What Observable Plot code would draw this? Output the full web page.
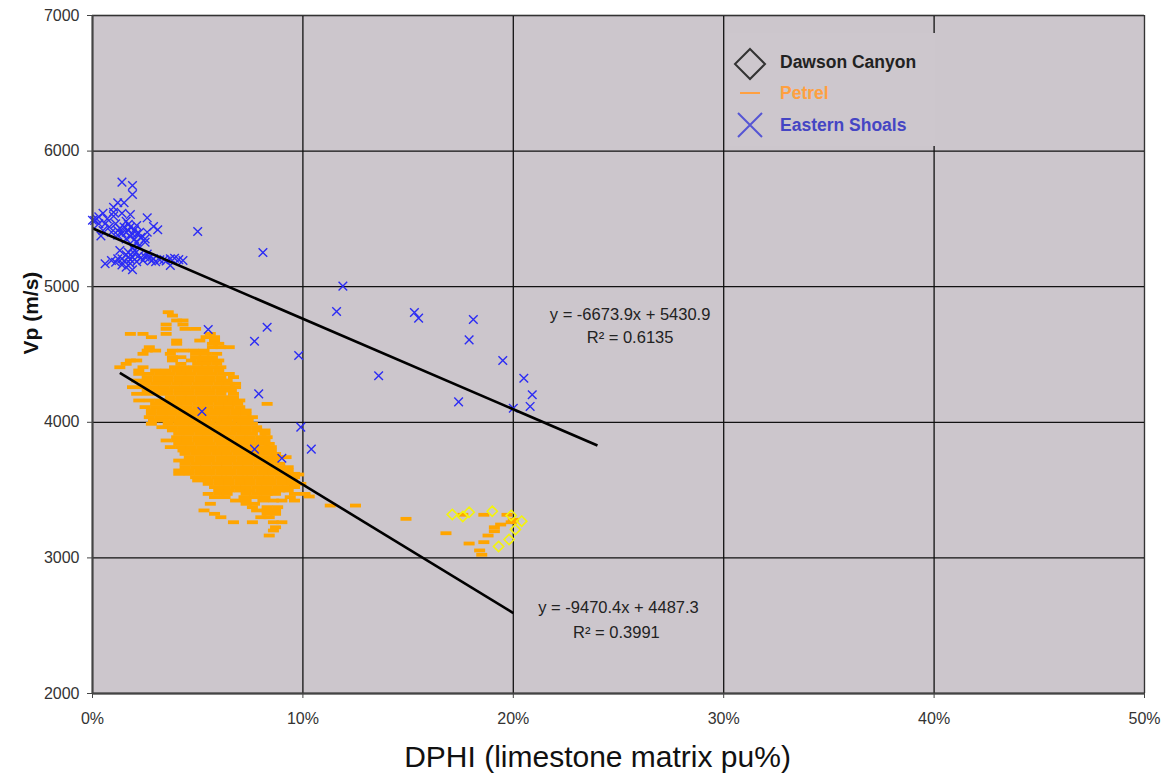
<!DOCTYPE html>
<html>
<head>
<meta charset="utf-8">
<script src="https://cdn.jsdelivr.net/npm/d3@7"></script>
<script src="https://cdn.jsdelivr.net/npm/@observablehq/plot@0.6"></script>
<style>
  body { margin: 0; background: #fff; font-family: "Liberation Sans", Arial, sans-serif; }
  #wrap { position: relative; width: 1165px; height: 780px; }
  #legend { position: absolute; left: 727px; top: 33px; width: 208px; height: 113px; background: #cdc7cd; }
  .item { position: absolute; left: 0; height: 30px; width: 208px; }
  .item svg { position: absolute; left: 0; top: 0; }
  .item span { position: absolute; left: 53px; top: 50%; transform: translateY(-50%); font-weight: bold; font-size: 17.5px; white-space: nowrap; }
</style>
</head>
<body>
<div id="wrap">
  <div id="legend"></div>
</div>
<script>
// Series names
const seriesNames = ["Dawson Canyon", "Petrel", "Eastern Shoals"];

// Axis ticks
const xTicks = [0, 10, 20, 30, 40, 50];              // DPHI, percent
const yTicks = [2000, 3000, 4000, 5000, 6000, 7000]; // Vp, m/s

// Linear fits (x as fraction, y in m/s) with their R² and drawn x-span (percent)
const fitNames = ["Eastern Shoals", "Petrel"];
const fitSlopes = [-6673.9, -9470.4];
const fitIntercepts = [5430.9, 4487.3];
const fitR2 = [0.6135, 0.3991];
const fitFrom = [0, 1.3];
const fitTo = [24, 20];

// Dawson Canyon: [DPHI %, Vp m/s]
const dawsonCanyon = [
  [17.1, 3320], [17.6, 3305], [17.9, 3337], [19.0, 3344], [19.9, 3313],
  [20.4, 3271], [20.1, 3209], [19.8, 3136], [19.3, 3084]
];

// Eastern Shoals: [DPHI %, Vp m/s]
const easternShoals = [
  [1.4, 5771], [1.9, 5746], [1.9, 5680], [1.2, 5619], [1.5, 5619], [1.0, 5586], [1.0, 5549],
  [1.4, 5542], [1.8, 5532], [0.5, 5542], [2.6, 5508], [1.6, 5483], [0.1, 5488], [0.3, 5464],
  [0.6, 5464], [1.1, 5464], [2.1, 5451], [2.9, 5444], [3.1, 5420], [0.5, 5414], [0.9, 5402],
  [1.2, 5414], [1.6, 5402], [1.7, 5414], [1.9, 5390], [1.2, 5380], [2.6, 5402], [2.3, 5365],
  [2.5, 5353], [0.4, 5375], [1.6, 5353], [2.1, 5328], [2.5, 5328],
  [0.2, 5500], [0.0, 5490], [0.3, 5515], [0.8, 5440], [1.3, 5430], [1.8, 5440], [2.0, 5420],
  [1.4, 5395], [1.8, 5370], [2.0, 5350], [1.0, 5520], [0.7, 5500], [2.2, 5395], [1.5, 5440],
  [1.7, 5460], [2.1, 5390],
  [0.6, 5169], [0.9, 5193], [1.2, 5206], [1.4, 5206], [1.7, 5218], [1.9, 5218], [2.0, 5243],
  [2.3, 5213], [2.4, 5193], [2.7, 5213], [2.9, 5206], [3.2, 5198], [3.7, 5206], [3.9, 5210],
  [4.3, 5193], [3.7, 5156], [1.6, 5144], [1.9, 5125], [2.0, 5267], [1.7, 5254], [1.3, 5267],
  [1.5, 5190], [1.8, 5200], [2.1, 5185], [2.2, 5230], [1.6, 5235], [1.1, 5180], [2.5, 5220],
  [3.0, 5185], [3.4, 5200], [4.1, 5200], [3.5, 5190], [1.8, 5170], [1.4, 5160], [2.6, 5240],
  [1.9, 5290], [2.2, 5300], [2.8, 5190],
  [5.0, 5407], [8.1, 5252], [11.9, 5004], [11.6, 4817], [15.3, 4810], [15.5, 4768], [18.1, 4758],
  [17.9, 4608], [19.5, 4456], [20.5, 4325], [20.9, 4203], [20.8, 4117], [20.0, 4104], [17.4, 4151],
  [13.6, 4343], [9.8, 4493], [8.3, 4701], [7.7, 4598], [7.9, 4210], [9.9, 3964], [10.4, 3802],
  [7.7, 3802], [9.0, 3735], [5.5, 4684], [5.2, 4080]
];

// Petrel: rows of equal Vp (m/s) with the DPHI (%) of each reading in the row
const petrelRows = [
  [4812, [3.6]],
  [4787, [3.8]],
  [4751, [4.0, 4.3]],
  [4721, [3.5, 4.3]],
  [4689, [3.5, 4.4, 4.9]],
  [4652, [1.8, 2.4, 3.5, 5.6]],
  [4628, [2.8, 5.4, 5.8]],
  [4603, [4.0, 5.1, 5.8]],
  [4579, [4.0, 5.7, 6.0]],
  [4554, [2.7, 5.7, 6.1, 6.5]],
  [4529, [2.6, 3.0, 3.8, 4.3, 4.8, 5.3]],
  [4505, [2.4, 3.7, 4.9, 5.4, 5.9]],
  [4480, [3.8, 4.2, 4.9, 5.3, 5.7]],
  [4456, [1.8, 2.1, 3.8, 4.7, 5.2, 5.6, 6.0]],
  [4431, [1.6, 4.2, 5.0, 5.4, 5.9]],
  [4406, [1.3, 2.4, 3.9, 4.3, 4.8, 5.3, 5.7, 6.1]],
  [4382, [2.2, 3.0, 3.5, 4.0, 4.5, 5.0, 5.5, 6.0]],
  [4357, [2.2, 2.7, 3.2, 3.7, 4.2, 4.7, 5.2, 5.7, 6.2, 6.5]],
  [4333, [2.6, 3.1, 3.6, 4.1, 4.6, 5.1, 5.6, 6.1, 6.7]],
  [4308, [2.1, 2.6, 3.1, 3.6, 4.1, 4.6, 5.1, 5.6, 6.1, 6.4]],
  [4284, [2.5, 3.0, 3.5, 4.0, 4.5, 5.0, 5.5, 6.0, 6.5, 6.8]],
  [4259, [1.9, 2.4, 2.9, 3.4, 3.9, 4.4, 4.9, 5.4, 5.9, 6.4, 6.8]],
  [4234, [2.6, 3.1, 3.6, 4.1, 4.6, 5.1, 5.6, 6.1, 6.6]],
  [4210, [2.1, 2.6, 3.1, 3.6, 4.1, 4.6, 5.1, 5.6, 6.1, 6.7]],
  [4185, [3.7, 4.2, 4.7, 5.2, 5.7, 6.2, 6.7]],
  [4161, [2.2, 2.7, 3.2, 3.7, 4.2, 4.7, 5.2, 5.7, 6.2, 6.7, 7.0]],
  [4136, [3.0, 3.5, 4.0, 4.5, 5.0, 5.5, 6.0, 6.5, 6.9, 8.3]],
  [4112, [2.5, 3.0, 3.5, 4.0, 4.5, 5.0, 5.5, 6.0, 6.5, 7.0]],
  [4087, [2.8, 3.3, 3.8, 4.3, 4.8, 5.3, 5.8, 6.3, 6.8, 7.3]],
  [4062, [2.8, 3.3, 3.8, 4.3, 4.8, 5.3, 5.8, 6.3, 6.8, 7.3]],
  [4038, [2.7, 3.2, 3.7, 4.2, 4.7, 5.2, 5.7, 6.2, 6.7, 7.2, 7.6]],
  [4013, [2.9, 3.4, 3.9, 4.4, 4.9, 5.4, 5.9, 6.4, 6.9, 7.4]],
  [3989, [2.8, 3.6, 4.1, 4.6, 5.1, 5.6, 6.1, 6.6, 7.1, 7.6]],
  [3964, [3.3, 3.8, 4.3, 4.8, 5.3, 5.8, 6.3, 6.8, 7.3, 7.8]],
  [3940, [3.8, 4.3, 4.8, 5.3, 5.8, 6.3, 6.8, 7.3, 7.8, 8.2]],
  [3915, [4.1, 4.6, 5.1, 5.6, 6.1, 6.6, 7.1, 7.6, 8.2]],
  [3890, [4.0, 4.5, 5.0, 5.5, 6.0, 6.5, 7.0, 7.5, 8.0, 8.3]],
  [3866, [3.5, 4.0, 4.5, 5.0, 5.5, 6.0, 6.5, 7.0, 7.5, 8.0, 8.2]],
  [3841, [4.1, 4.6, 5.1, 5.6, 6.1, 6.6, 7.1, 7.6, 8.1, 8.4]],
  [3817, [3.7, 4.2, 4.7, 5.2, 5.7, 6.2, 6.7, 7.2, 7.7, 8.2, 8.5]],
  [3792, [4.3, 4.8, 5.3, 5.8, 6.3, 6.8, 7.3, 7.8, 8.3, 8.5]],
  [3767, [4.4, 4.9, 5.4, 5.9, 6.4, 6.9, 7.4, 7.9, 8.4, 8.7]],
  [3743, [4.6, 5.1, 5.6, 6.1, 6.6, 7.1, 7.6, 8.1, 8.6, 8.8, 9.2]],
  [3718, [4.1, 4.6, 5.1, 5.6, 6.1, 6.6, 7.1, 7.6, 8.1, 8.6]],
  [3694, [4.4, 4.9, 5.4, 5.9, 6.4, 6.9, 7.4, 7.9, 8.4, 8.9]],
  [3669, [4.4, 4.9, 5.4, 5.9, 6.4, 6.9, 7.4, 7.9, 8.4, 8.9, 9.3]],
  [3645, [4.1, 4.6, 5.1, 5.6, 6.1, 6.6, 7.1, 7.6, 8.1, 8.6, 9.1, 9.3]],
  [3620, [4.1, 4.6, 5.1, 5.6, 6.1, 6.6, 7.1, 7.6, 8.1, 8.6, 9.1, 9.6]],
  [3595, [4.9, 5.4, 5.9, 6.4, 6.9, 7.4, 7.9, 8.4, 8.9, 9.4, 9.6]],
  [3571, [5.0, 5.5, 6.0, 6.5, 7.0, 7.5, 8.0, 8.5, 9.0, 9.5]],
  [3546, [5.5, 6.0, 6.5, 7.0, 7.5, 8.0, 8.5, 9.0, 9.5, 9.9]],
  [3522, [5.8, 6.3, 6.8, 7.3, 7.8, 8.3, 8.8, 9.3, 9.6]],
  [3497, [6.0, 6.5, 7.0, 7.5, 8.0, 8.5, 8.9, 9.3]],
  [3472, [5.5, 6.0, 6.4, 7.3, 7.8, 8.3, 8.7, 9.6, 10.1]],
  [3448, [5.8, 6.3, 7.2, 7.7, 8.2, 9.4]],
  [3423, [6.8, 7.3, 8.1, 8.6, 9.0, 9.6]],
  [3399, [5.6, 7.3, 7.7]],
  [3374, [7.6, 8.3, 8.8]],
  [3350, [5.3, 7.8, 8.3, 8.7]],
  [3325, [5.8, 8.3, 8.7]],
  [3300, [6.1, 8.0, 8.4]],
  [3263, [6.7, 7.6, 8.6, 9.0]],
  [3226, [8.7]],
  [3202, [8.6]],
  [3165, [8.4]]
];

// Petrel readings away from the main cloud: [DPHI %, Vp m/s]
const petrelOutliers = [
  [14.9, 3288], [17.6, 3318], [18.6, 3318], [19.7, 3318], [19.9, 3263], [19.4, 3246],
  [19.1, 3226], [19.1, 3197], [18.8, 3165], [16.8, 3182], [18.6, 3116], [17.9, 3106],
  [18.4, 3055], [18.5, 3023], [20.0, 3281], [11.3, 3386], [12.5, 3386], [9.8, 3615],
  [10.3, 3453]
];

// ---- derived tables ----
const petrel = petrelRows.flatMap(([vp, xs]) => xs.map(x => [x, vp])).concat(petrelOutliers);
const fits = fitNames.map((name, i) => ({
  name, slope: fitSlopes[i], intercept: fitIntercepts[i], r2: fitR2[i], from: fitFrom[i], to: fitTo[i]
}));
const fitY = (f, xPct) => f.intercept + f.slope * xPct / 100;
const eqText = f => `y = ${f.slope.toFixed(1)}x + ${f.intercept.toFixed(1)}`;
const r2Text = f => `R² = ${f.r2.toFixed(4)}`;

// Horizontal dash used for Petrel readings
const dashSymbol = {
  draw(ctx) {
    ctx.moveTo(-5.5, -1.9); ctx.lineTo(5.5, -1.9); ctx.lineTo(5.5, 1.9); ctx.lineTo(-5.5, 1.9); ctx.closePath();
  }
};

const colors = { dawson: "#f4f40a", petrel: "#ffa500", shoals: "#2c2cf4" };
const plotBg = "#ccc6cc";

const chart = Plot.plot({
  width: 1165,
  height: 780,
  marginLeft: 92,
  marginRight: 21,
  marginTop: 15,
  marginBottom: 87,
  x: { domain: [0, 50] },
  y: { domain: [2000, 7000] },
  style: { fontFamily: "'Liberation Sans', Arial, sans-serif", background: "#fff", color: "#333", overflow: "visible" },
  marks: [
    Plot.frame({ fill: plotBg, stroke: null }),
    Plot.gridX(xTicks, { stroke: "#111", strokeOpacity: 1, strokeWidth: 1.3 }),
    Plot.gridY(yTicks, { stroke: "#111", strokeOpacity: 1, strokeWidth: 1.3 }),
    Plot.dot(petrel, { x: d => d[0], y: d => d[1], symbol: dashSymbol, fill: colors.petrel, stroke: "none" }),
    Plot.dot(dawsonCanyon, { x: d => d[0], y: d => d[1], symbol: "diamond2", r: 4.6, stroke: colors.dawson, strokeWidth: 1.6, fill: "none" }),
    Plot.dot(easternShoals, { x: d => d[0], y: d => d[1], symbol: "times", r: 4, stroke: colors.shoals, strokeWidth: 1.4 }),
    Plot.link(fits, {
      x1: d => d.from, y1: d => fitY(d, d.from),
      x2: d => d.to, y2: d => fitY(d, d.to),
      stroke: "#000", strokeWidth: 2.6
    }),
    Plot.frame({ stroke: "#333", strokeWidth: 1 }),
    Plot.ruleX([0], { stroke: "#444", strokeWidth: 2 }),
    Plot.ruleY([2000], { stroke: "#444", strokeWidth: 2 }),
    Plot.axisX({ ticks: xTicks, tickFormat: d => d + "%", tickSize: 5, tickPadding: 14, fontSize: 16, label: null, stroke: "#444" }),
    Plot.axisY({ ticks: yTicks, tickFormat: d => String(d), tickSize: 5, tickPadding: 8, fontSize: 16, label: null, stroke: "#444" }),
    // regression equations
    Plot.text([fits[0]], { x: 25.55, y: 4795, text: eqText, fontSize: 16.5, fill: "#222" }),
    Plot.text([fits[0]], { x: 25.55, y: 4625, text: r2Text, fontSize: 16.5, fill: "#222" }),
    Plot.text([fits[1]], { x: 25.0, y: 2633, text: eqText, fontSize: 16.5, fill: "#222" }),
    Plot.text([fits[1]], { x: 24.9, y: 2447, text: r2Text, fontSize: 16.5, fill: "#222" }),
    // axis titles
    Plot.text(["DPHI (limestone matrix pu%)"], { frameAnchor: "bottom", dx: -21, dy: 73, fontSize: 30, fill: "#111" }),
    Plot.text(["Vp (m/s)"], { frameAnchor: "left", rotate: -90, dx: -61, fontSize: 21, fontWeight: "bold", fill: "#111" })
  ]
});

const wrap = document.getElementById("wrap");
chart.style.position = "absolute";
chart.style.left = "0";
chart.style.top = "0";
wrap.insertBefore(chart, wrap.firstChild);

// legend
const legend = document.getElementById("legend");
legend.style.zIndex = 2;
const legendItems = [
  { name: seriesNames[0], color: "#222", top: 14,
    svg: `<svg width="50" height="34"><polygon points="23,2 38,17 23,32 8,17" fill="none" stroke="#333" stroke-width="2"/></svg>` },
  { name: seriesNames[1], color: "#ffa040", top: 45,
    svg: `<svg width="50" height="30"><line x1="13" y1="15" x2="33" y2="15" stroke="#ffa040" stroke-width="2"/></svg>` },
  { name: seriesNames[2], color: "#4545c4", top: 77,
    svg: `<svg width="50" height="30"><path d="M11,3 L35,27 M35,3 L11,27" stroke="#5555d4" stroke-width="2" fill="none"/></svg>` }
];
for (const it of legendItems) {
  const div = document.createElement("div");
  div.className = "item";
  div.style.top = it.top + "px";
  div.innerHTML = it.svg + `<span style="color:${it.color}">${it.name}</span>`;
  legend.appendChild(div);
}
</script>
</body>
</html>
